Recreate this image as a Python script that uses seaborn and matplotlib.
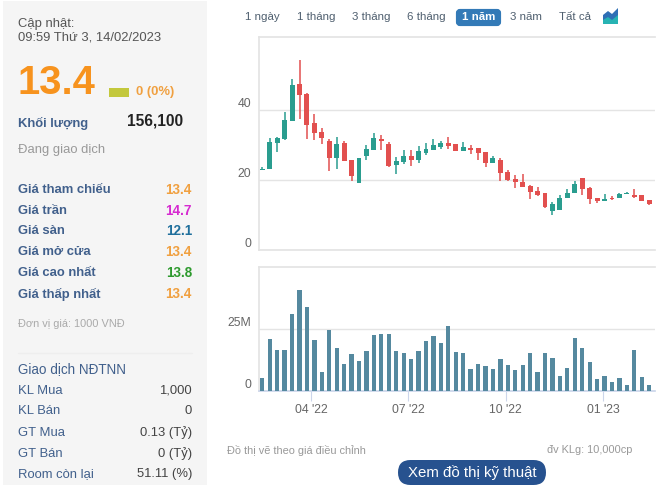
import matplotlib
matplotlib.use('Agg')
import matplotlib.dates as mdates
import matplotlib.pyplot as plt
from matplotlib.patches import FancyBboxPatch, Polygon, Rectangle
import numpy as np
import pandas as pd
import seaborn as sns

# weekly candles, Feb 2022 - Feb 2023
opens = [23.0, 23.2, 30.7, 31.6, 37.0, 47.4, 44.7, 36.3, 33.7, 31.1, 26.4, 30.6, 25.7, 19.2, 26.9, 28.7, 31.8, 30.3,
         24.4, 25.1, 27.0, 25.7, 27.8, 28.5, 29.4, 30.6, 30.2, 28.4, 29.1, 29.1, 28.0, 25.0, 25.7, 22.3, 20.3, 19.3,
         18.3, 16.9, 16.3, 11.2, 11.5, 15.0, 16.4, 20.6, 17.7, 14.8, 14.1, 15.0, 14.8, 15.9, 15.7, 15.6, 14.2]
closes = [23.3, 30.9, 32.0, 37.1, 47.1, 44.4, 35.8, 33.5, 32.0, 26.4, 30.3, 25.5, 21.1, 26.3, 28.9, 32.0, 31.2, 24.0,
          25.5, 27.0, 25.8, 28.2, 28.8, 29.9, 30.6, 29.8, 28.4, 29.4, 28.7, 27.7, 24.9, 26.2, 22.1, 20.1, 19.4, 18.1,
          16.6, 15.8, 12.4, 13.1, 14.8, 16.3, 18.8, 17.5, 14.7, 14.0, 14.5, 14.6, 15.9, 16.2, 15.2, 14.0, 13.2]
highs = [23.6, 32.0, 32.2, 39.4, 48.8, 54.3, 44.8, 39.0, 34.8, 31.6, 32.2, 31.3, 25.7, 26.3, 30.0, 33.5, 33.0, 30.9,
         26.6, 28.6, 28.6, 29.7, 30.5, 31.7, 31.2, 32.2, 30.3, 30.9, 30.0, 29.1, 28.0, 27.0, 26.3, 23.0, 21.5, 21.7,
         18.5, 17.9, 16.3, 13.6, 15.7, 17.4, 19.7, 20.6, 18.1, 15.0, 16.0, 15.4, 16.2, 16.5, 17.5, 15.8, 14.3]
lows = [23.0, 23.2, 28.1, 31.4, 37.0, 37.5, 31.7, 31.4, 30.3, 22.7, 23.2, 25.5, 19.8, 19.2, 25.7, 28.7, 28.6, 23.8,
        21.8, 24.6, 24.0, 25.0, 27.2, 28.5, 29.0, 29.0, 28.4, 28.4, 27.4, 25.8, 23.7, 25.0, 19.7, 19.7, 17.8, 18.1,
        14.7, 15.5, 12.1, 10.1, 11.5, 15.0, 16.4, 15.7, 13.1, 13.5, 14.1, 14.3, 14.8, 15.9, 14.8, 13.9, 13.0]
volumes = [5.3, 21.1, 16.6, 16.6, 31.2, 40.9, 34.1, 20.7, 7.7, 24.7, 17.4, 10.9, 15.0, 12.2, 16.2, 22.7, 23.1, 23.1,
           16.2, 15.4, 13.0, 16.2, 20.3, 22.3, 19.5, 26.4, 15.8, 15.4, 8.9, 10.9, 10.1, 8.9, 13.0, 10.5, 8.5, 10.5,
           15.4, 7.7, 15.4, 13.4, 6.1, 9.3, 21.5, 17.4, 11.8, 4.9, 6.1, 3.6, 5.3, 2.4, 16.6, 5.7, 2.4]

period_labels = ['1 ngày', '1 tháng', '3 tháng', '6 tháng', '1 năm', '3 năm', 'Tất cả']
quarter_starts = ['2022-04-01', '2022-07-01', '2022-10-01', '2023-01-01']
quarter_labels = ["04 '22", "07 '22", "10 '22", "01 '23"]

price_rows = ['Giá tham chiếu', 'Giá trần', 'Giá sàn', 'Giá mở cửa', 'Giá cao nhất', 'Giá thấp nhất']
price_values = ['13.4', '14.7', '12.1', '13.4', '13.8', '13.4']
price_colors = ['#f0a040', '#d62ad0', '#1f6f9c', '#f0a040', '#2e9a2e', '#f0a040']
foreign_rows = ['KL Mua', 'KL Bán', 'GT Mua', 'GT Bán', 'Room còn lại']
foreign_values = ['1,000', '0', '0.13 (Tỷ)', '0 (Tỷ)', '51.11 (%)']

GREEN = '#2a9d8f'
RED = '#e2504f'
VOL = '#55899f'
GRID = '#e4e4e4'
LABEL = '#41608c'

sns.set_theme(style='white')
plt.rcParams['font.family'] = ['Liberation Sans', 'DejaVu Sans']

W, H = 661, 490
df = pd.DataFrame({'open': opens, 'close': closes, 'high': highs, 'low': lows, 'volume': volumes})
df['date'] = mdates.date2num(pd.date_range('2022-02-14', periods=len(df), freq='7D'))
df['body'] = (df['close'] - df['open']).abs()
df['bottom'] = df[['open', 'close']].min(axis=1)

fig = plt.figure(figsize=(W / 100, H / 100), dpi=100)

# page furniture is drawn on a full size axes in pixel units
page = fig.add_axes([0, 0, 1, 1], zorder=0)
page.set_xlim(0, W)
page.set_ylim(H, 0)
page.axis('off')


def txt(x, y, s, px=13, color='#444444', weight='normal', ha='left', **kw):
    page.text(x, y, s, fontsize=px * 0.72, color=color, fontweight=weight, ha=ha, va='center', **kw)


page.add_patch(Rectangle((3, 1), 204, 484, color='#f5f5f5', lw=0))
txt(18, 23.5, 'Cập nhật:', 13, '#555555')
txt(18, 38, '09:59 Thứ 3, 14/02/2023', 13, '#555555')
txt(18, 83, '13.4', 40, '#f7931e', 'bold')
page.add_patch(Rectangle((109, 88), 20, 9, color='#c3c83c', lw=0))
txt(136, 92, '0 (0%)', 13, '#f0a040', 'bold')
txt(18, 123, 'Khối lượng', 13, LABEL, 'bold')
txt(183, 121, '156,100', 15.5, '#222222', 'bold', ha='right')
txt(18, 150, 'Đang giao dịch', 13, '#999999')

for y, name, val, col in zip([189.5, 210.5, 231, 252, 273, 294], price_rows, price_values, price_colors):
    txt(18, y, name, 13, LABEL, 'bold')
    txt(192, y, val, 13.5, col, 'bold', ha='right')
txt(18, 324, 'Đơn vị giá: 1000 VNĐ', 11, '#aaaaaa')

page.plot([18, 192], [353, 353], color='#eeeeee', lw=1)
txt(18, 369, 'Giao dịch NĐTNN', 13.5, LABEL)
for y, name, val in zip([390.5, 411, 433, 454, 474], foreign_rows, foreign_values):
    txt(18, y, name, 13, LABEL)
    txt(192, y, val, 13, '#444444', ha='right')

# period selector
page.add_patch(FancyBboxPatch((458, 11), 41, 13, boxstyle='round,pad=0,rounding_size=2', mutation_aspect=1,
                              ec='#337ab7', fc='#337ab7', lw=3))
for x, s in zip([262.5, 316, 371.5, 426.5, 478.5, 526.5, 575], period_labels):
    active = s == '1 năm'
    txt(x, 17, s, 11.5, 'white' if active else '#4f5f6f', 'bold' if active else 'normal', ha='center')
page.add_patch(Polygon([(603, 24), (603, 15), (608, 11), (612, 14), (618, 8), (618, 24)], color='#2f6fb5', lw=0))
page.add_patch(Polygon([(603, 24), (603, 20), (608, 17), (612, 20), (618, 15), (618, 24)], color='#27b3b3', lw=0))

txt(227, 450, 'Đồ thị vẽ theo giá điều chỉnh', 11, '#999999')
txt(547, 450, 'đv KLg: 10,000cp', 11, '#999999')
page.add_patch(FancyBboxPatch((398, 460), 148, 25, boxstyle='round,pad=0,rounding_size=12.5', ec='none', fc='#27528f'))
txt(472, 472.5, 'Xem đồ thị kỹ thuật', 15, 'white', ha='center')


def px_axes(left, top, right, bottom):
    return fig.add_axes([left / W, 1 - bottom / H, (right - left) / W, (bottom - top) / H], zorder=1, facecolor='none')


ax_price = px_axes(258.5, 37, 655, 250)
ax_vol = px_axes(258.5, 266.5, 655, 391)

# candles: wick first, then up and down bodies
ax_price.vlines(df['date'], df['low'], df['high'], colors=np.where(df['close'] >= df['open'], GREEN, RED),
                linewidth=1.1, zorder=2)
for color, part in ((GREEN, df[df['close'] >= df['open']]), (RED, df[df['close'] < df['open']])):
    sns.barplot(data=part, x='date', y='body', bottom=part['bottom'].to_numpy(), native_scale=True, color=color,
                saturation=1, width=0.66, linewidth=0, errorbar=None, ax=ax_price, zorder=3)

sns.barplot(data=df, x='date', y='volume', native_scale=True, color=VOL, saturation=1, width=0.58, linewidth=0,
            errorbar=None, ax=ax_vol, zorder=3)

px_per_week = 7.44
first = df['date'].iloc[0]
x0 = first - (262.3 - 258.5) / px_per_week * 7
x1 = first + (655 - 262.3) / px_per_week * 7
ticks = mdates.date2num(pd.to_datetime(quarter_starts))

ax_price.set_ylim(0, 60.9)
ax_price.set_yticks([0, 20, 40])
ax_price.set_yticklabels(['0', '20', '40'])
ax_vol.set_ylim(0, 50.3)
ax_vol.set_yticks([0, 25])
ax_vol.set_yticklabels(['0', '25M'])

for ax in (ax_price, ax_vol):
    ax.set_xlim(x0, x1)
    ax.set_xlabel('')
    ax.set_ylabel('')
    ax.set_axisbelow(True)
    ax.grid(axis='y', color=GRID, lw=1)
    ax.grid(axis='x', visible=False)
    for side in ('top', 'left'):
        ax.spines[side].set_visible(True)
        ax.spines[side].set_color(GRID)
    ax.spines['right'].set_visible(False)
    ax.spines['bottom'].set_color(GRID)
    ax.tick_params(axis='y', length=0, pad=5, labelsize=8.8, labelcolor='#666666')
    for lab in ax.get_yticklabels():
        lab.set_va('bottom')

ax_price.set_xticks([])
ax_vol.spines['bottom'].set_color('#ccd6eb')
ax_vol.set_xticks(ticks)
ax_vol.set_xticklabels(quarter_labels)
ax_vol.tick_params(axis='x', bottom=True, length=7.5, width=0.8, color='#ccd6eb', pad=2, labelsize=8.8,
                   labelcolor='#666666')

fig.savefig('out.png', dpi=100)
